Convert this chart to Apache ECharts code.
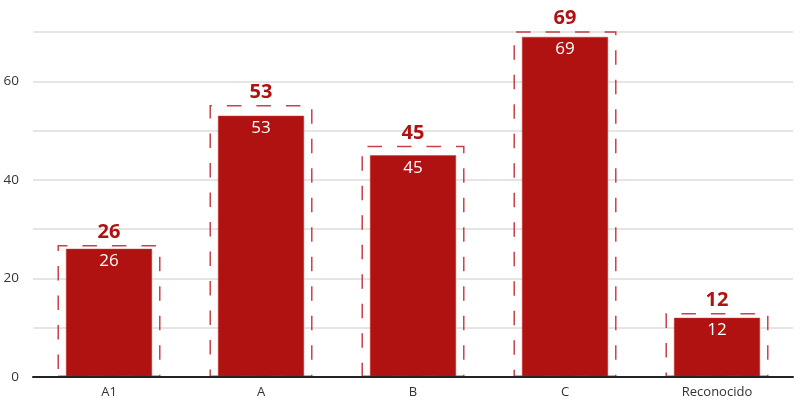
<!DOCTYPE html>
<html>
<head>
<meta charset="utf-8">
<script src="https://cdn.jsdelivr.net/npm/echarts@6/dist/echarts.min.js"></script>
<style>html,body{margin:0;padding:0;background:#fff}#c{width:800px;height:407px}</style>
</head>
<body>
<div id="c"></div>
<script>
var categories = ['A1', 'A', 'B', 'C', 'Reconocido'];
var values = [26, 53, 45, 69, 12];
var outlineValues = [26.8, 55.2, 46.9, 70.2, 13.0];

var RED = '#b01111';
var chart = echarts.init(document.getElementById('c'), null, {renderer: 'canvas'});
chart.setOption({
  animation: false,
  textStyle: {fontFamily: 'Open Sans'},
  grid: {left: 33, right: 7, top: 32, bottom: 30, containLabel: false},
  xAxis: [
    {
      type: 'category', data: categories, z: 5,
      axisLine: {lineStyle: {color: '#222', width: 2}},
      axisTick: {show: false},
      axisLabel: {color: '#333', fontSize: 13, margin: 9, fontFamily: 'Open Sans'}
    },
    {
      type: 'category', data: categories, show: false
    }
  ],
  yAxis: {
    type: 'value', min: 0, max: 70, interval: 10,
    axisLine: {show: false}, axisTick: {show: false},
    splitLine: {lineStyle: {color: '#dcdcdc', width: 1.5}},
    axisLabel: {
      color: '#333', fontSize: 13.5, margin: 14, fontFamily: 'Open Sans',
      formatter: function (v) { return v % 20 === 0 ? String(v) : ''; }
    }
  },
  series: [
    {
      type: 'bar', xAxisIndex: 0, data: values, barWidth: '56.6%', z: 2,
      itemStyle: {color: RED, borderColor: '#c43a3a', borderWidth: 0.5},
      label: {
        show: true, position: 'insideTop', distance: 4,
        color: '#fff', fontSize: 17, fontFamily: 'Open Sans'
      }
    },
    {
      type: 'bar', xAxisIndex: 1, data: outlineValues, barWidth: '67.8%', z: 3,
      itemStyle: {
        color: 'rgba(0,0,0,0)',
        borderColor: 'rgba(192,32,42,0.85)', borderWidth: 1.5,
        borderType: [14.5, 15]
      },
      label: {
        show: true, position: 'top', distance: 3,
        color: RED, fontSize: 20, fontWeight: 'bold', fontFamily: 'Open Sans',
        formatter: function (p) { return String(values[p.dataIndex]); }
      }
    }
  ]
});
</script>
</body>
</html>
